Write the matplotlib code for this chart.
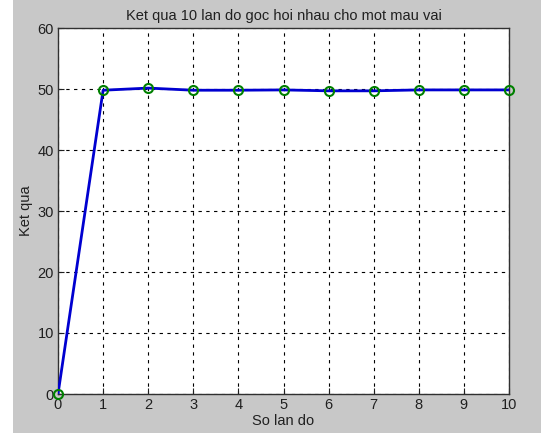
import matplotlib
matplotlib.use("Agg")
import matplotlib.pyplot as plt
from matplotlib.patches import Rectangle

x_vals = [0, 1, 2, 3, 4, 5, 6, 7, 8, 9, 10]
y_vals = [0, 49.8, 50.15, 49.8, 49.8, 49.85, 49.7, 49.7, 49.85, 49.85, 49.85]
x_ticks = list(range(0, 11))
y_ticks = [0, 10, 20, 30, 40, 50, 60]

plt.rcParams['font.family'] = ['Liberation Sans', 'DejaVu Sans']
txt = '#202020'

fig = plt.figure(figsize=(5.41, 4.33), dpi=100)
fig.patch.set_facecolor('#c8c8c8')
fig.patches.append(Rectangle((0, 0), 13/541, 1, transform=fig.transFigure,
                             facecolor='white', edgecolor='none', zorder=0))
ax = fig.add_axes([58/541, 1 - 394/433, (509 - 58)/541, (394 - 28)/433])
ax.set_facecolor('white')

ax.plot(x_vals, y_vals, color='#0000d0', linewidth=2, zorder=3)
ax.plot(x_vals, y_vals, linestyle='none', marker='o', markersize=6.5,
        markerfacecolor='none', markeredgecolor='#008000', markeredgewidth=1.5,
        zorder=4, clip_on=False)

ax.set_xlim(0, 10)
ax.set_ylim(0, 60)
ax.set_xticks(x_ticks)
ax.set_yticks(y_ticks)
ax.grid(True, color='black', linestyle=(0, (3, 4)), linewidth=0.8)
ax.tick_params(direction='in', length=4, labelsize=10.5, pad=3, colors=txt)
for s in ax.spines.values():
    s.set_color('#303030')
    s.set_linewidth(1)

ax.set_title('Ket qua 10 lan do goc hoi nhau cho mot mau vai', fontsize=10.5, pad=6, color=txt)
ax.set_xlabel('So lan do', fontsize=10.5, labelpad=1, color=txt)
ax.set_ylabel('Ket qua', fontsize=10.5, labelpad=3, color=txt)

fig.savefig('out.png', dpi=100, facecolor=fig.get_facecolor())
